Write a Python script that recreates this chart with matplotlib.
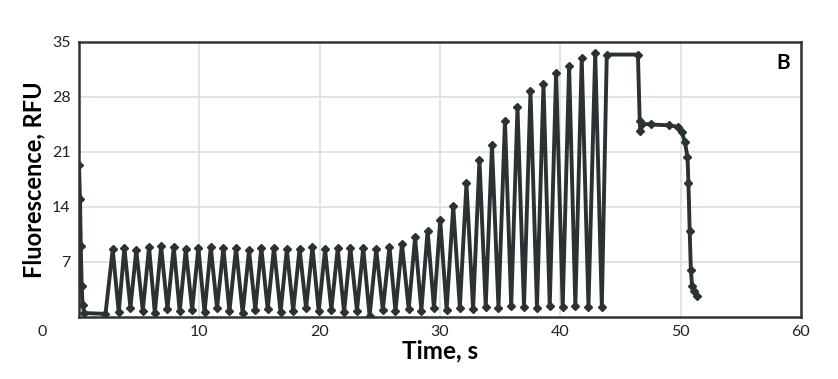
import numpy as np
import matplotlib.pyplot as plt

# fast decay at the start, then the flat baseline
start_time = [0.0, 0.08, 0.15, 0.22, 0.30, 0.45, 2.2]
start_rfu = [19.3, 15.0, 9.0, 4.0, 1.5, 0.5, 0.4]

# oscillation peaks and the troughs that follow them
peak_time = [2.80, 3.77, 4.76, 5.82, 6.82, 7.87, 8.87, 9.92, 10.95, 12.0,
             13.05, 14.13, 15.15, 16.2, 17.27, 18.33, 19.4, 20.45, 21.5, 22.55,
             23.62, 24.7, 25.8, 26.84, 27.93, 28.97, 30.02, 31.1, 32.2, 33.28,
             34.32, 35.4, 36.44, 37.52, 38.6, 39.65, 40.73, 41.78, 42.9]
peak_rfu = [8.6, 8.8, 8.5, 8.9, 9.0, 8.9, 8.6, 8.8, 8.9, 8.8,
            8.8, 8.5, 8.8, 8.8, 8.6, 8.7, 8.9, 8.6, 8.75, 8.8,
            8.8, 8.6, 8.95, 9.3, 10.15, 11.0, 12.3, 14.1, 17.0, 20.0,
            21.9, 25.0, 26.7, 28.8, 29.6, 31.1, 32.0, 32.9, 33.6]
trough_time = [3.3, 4.27, 5.3, 6.3, 7.35, 8.37, 9.4, 10.43, 11.47, 12.5,
               13.6, 14.65, 15.68, 16.75, 17.8, 18.87, 19.92, 20.97, 22.03, 23.1,
               24.15, 25.25, 26.3, 27.4, 28.45, 29.5, 30.55, 31.65, 32.75, 33.8,
               34.86, 35.92, 36.98, 38.06, 39.12, 40.2, 41.25, 42.34, 43.45]
trough_rfu = [0.6, 1.2, 0.8, 0.5, 1.0, 0.7, 0.9, 0.6, 1.1, 0.7,
              0.5, 0.9, 1.0, 0.6, 0.8, 1.1, 0.7, 0.9, 0.6, 0.8,
              0.1, 0.9, 0.7, 1.0, 0.8, 1.1, 0.9, 1.2, 1.0, 1.3,
              1.2, 1.4, 1.3, 1.2, 1.4, 1.3, 1.4, 1.3, 1.3]

# saturated plateau, second plateau and final decay
end_time = [43.86, 46.45, 46.6, 46.65, 46.8, 47.5, 49.0, 49.8, 50.1, 50.35,
            50.57, 50.65, 50.75, 50.85, 50.95, 51.1, 51.4]
end_rfu = [33.4, 33.4, 24.9, 23.7, 24.6, 24.5, 24.4, 24.2, 23.5, 22.3,
           20.4, 17.0, 11.0, 6.0, 4.0, 3.3, 2.7]

x_ticks = [10, 20, 30, 40, 50, 60]
y_ticks = [7, 14, 21, 28, 35]

line_color = "#2b3233"

t = list(start_time)
v = list(start_rfu)
for pt, pv, tt, tv in zip(peak_time, peak_rfu, trough_time, trough_rfu):
    t += [pt, tt]
    v += [pv, tv]
t += end_time
v += end_rfu

plt.rcParams["font.family"] = ["Lato", "DejaVu Sans"]

fig = plt.figure(figsize=(8.38, 3.79), dpi=100)
ax = fig.add_axes([0.0943, 0.1636, 0.8615, 0.7256])

ax.plot(t, v, color=line_color, linewidth=2.8, marker="D", markersize=4,
        zorder=3)

ax.set_xlim(0, 60)
ax.set_ylim(0, 35)
ax.set_xticks(x_ticks)
ax.set_yticks(y_ticks)
ax.tick_params(length=0, labelsize=11.5, pad=6, colors="#222222")
ax.grid(True, color="#dcdfe0", linewidth=1.2)
ax.set_axisbelow(True)
for spine in ax.spines.values():
    spine.set_linewidth(1.8)
    spine.set_color("#333333")

ax.set_xlabel("Time, s", fontsize=17.5, fontweight="bold", labelpad=0)
ax.set_ylabel("Fluorescence, RFU", fontsize=17, fontweight="bold", labelpad=5)
ax.text(0.985, 0.96, "B", transform=ax.transAxes, ha="right", va="top",
        fontsize=15, fontweight="bold")
fig.text(42 / 838, 1 - 332 / 379, "0", ha="center", va="center",
         fontsize=11.5, color="#222222")

fig.savefig("out.png", dpi=100)
